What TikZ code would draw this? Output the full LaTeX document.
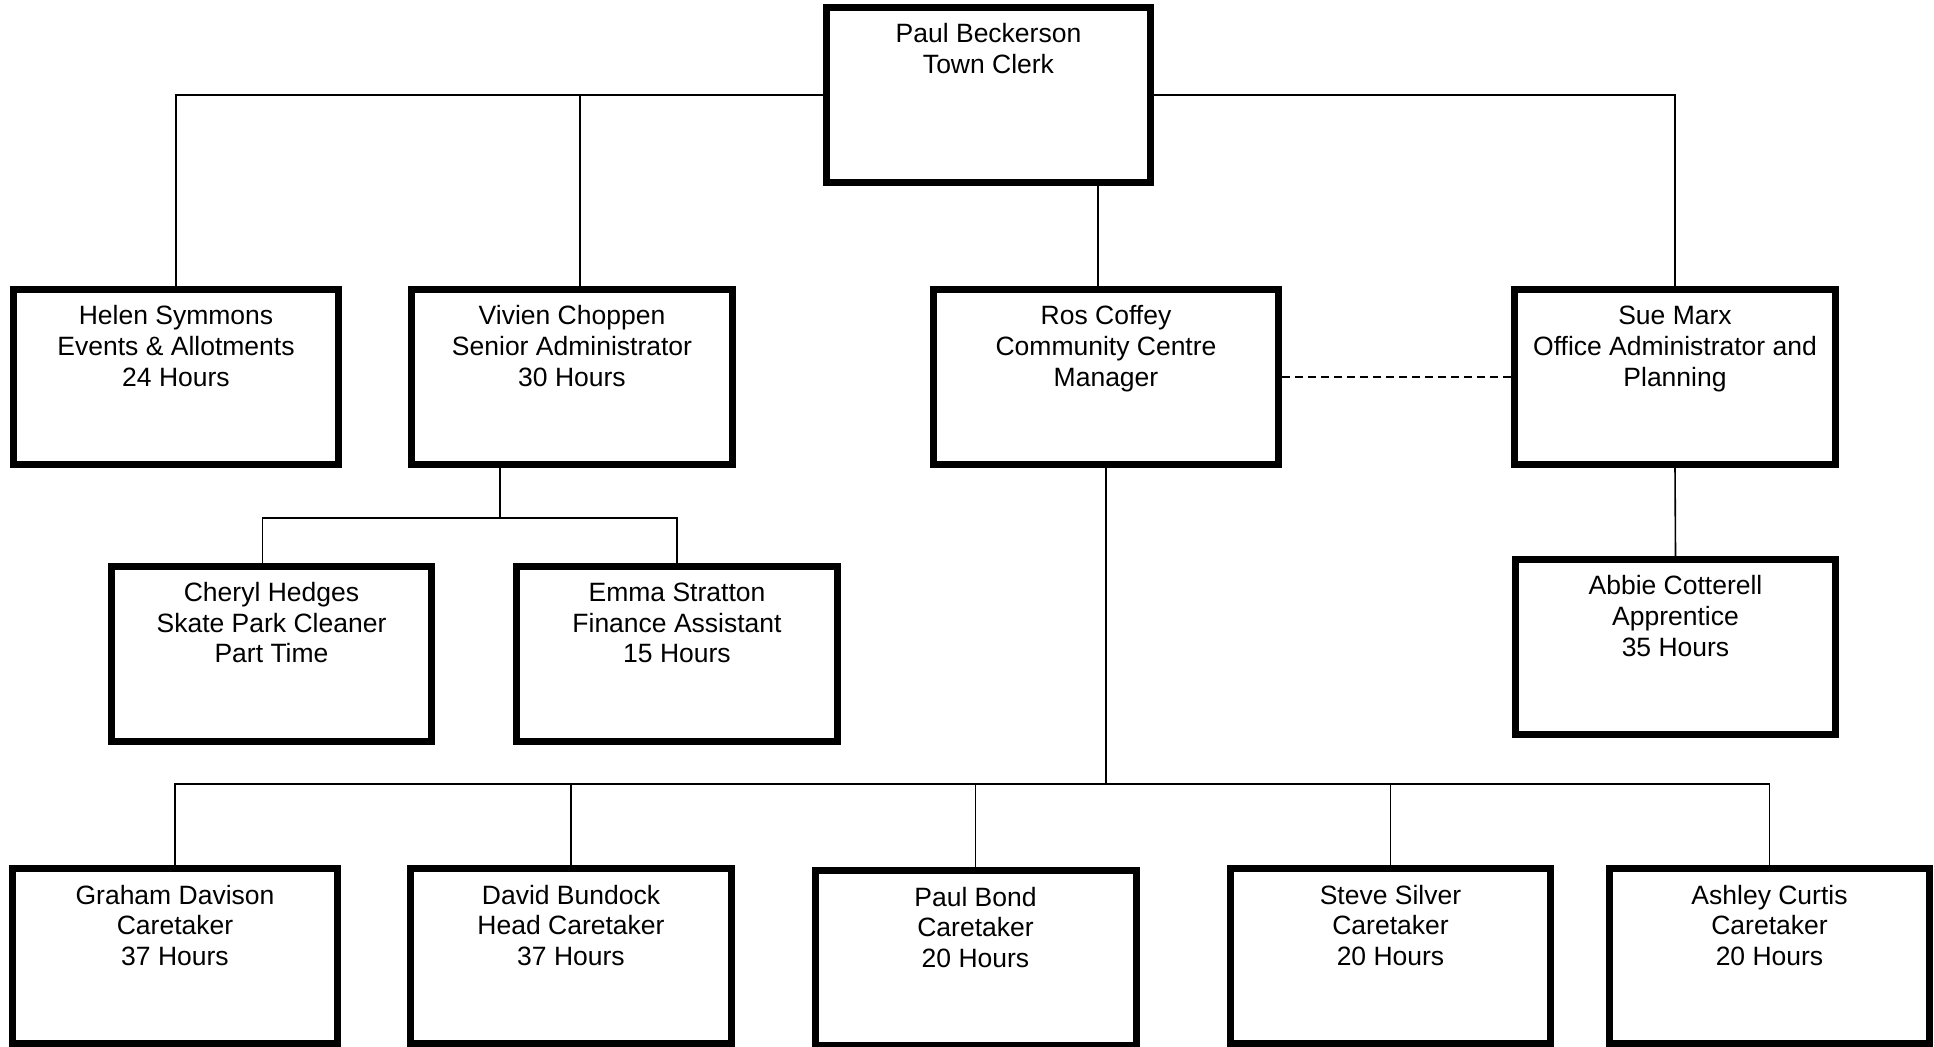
\documentclass[tikz,border=0pt]{standalone}
\usepackage{fontspec}
\setmainfont{Liberation Sans}
\usetikzlibrary{positioning}
\tikzset{
    post/.style={
           rectangle,
           draw=black, line width=7pt,
           minimum width=321pt,
           minimum height=175pt,
           inner sep=0pt,
           },
    link/.style={draw=black, line width=1.6pt},
}
\newcommand{\staff}[1]{\parbox[c][175pt][t]{300pt}{\centering\fontsize{26.5}{30.7}\selectfont\vspace*{14pt}\strut#1}}

\begin{document}
\begin{tikzpicture}[x=1pt, y=-1pt]
  \useasboundingbox (0,0) rectangle (1934,1046);

  \node[post, minimum width=324pt] (Beckerson) at (988.5,95)   {\staff{Paul Beckerson\\Town Clerk}};

  \node[post, minimum width=325pt] (Symmons)   at (176,377)    {\staff{Helen Symmons\\Events \& Allotments\\24 Hours}};
  \node[post]                      (Choppen)   at (572,377)    {\staff{Vivien Choppen\\Senior Administrator\\30 Hours}};
  \node[post, minimum width=345pt] (Coffey)    at (1106,377)   {\staff{Ros Coffey\\Community Centre\\Manager}};
  \node[post]                      (Marx)      at (1675,377)   {\staff{Sue Marx\\Office Administrator and\\Planning}};

  \node[post, minimum width=320pt] (Hedges)    at (271.5,653.5) {\staff{Cheryl Hedges\\Skate Park Cleaner\\Part Time}};
  \node[post]                      (Stratton)  at (677,653.5)  {\staff{Emma Stratton\\Finance Assistant\\15 Hours}};
  \node[post, minimum width=320pt] (Cotterell) at (1675.5,647) {\staff{Abbie Cotterell\\Apprentice\\35 Hours}};

  \node[post, minimum width=325pt] (Davison)   at (175,956)    {\staff{Graham Davison\\Caretaker\\37 Hours}};
  \node[post]                      (Bundock)   at (571,956)    {\staff{David Bundock\\Head Caretaker\\37 Hours}};
  \node[post]                      (Bond)      at (975.5,958)  {\staff{Paul Bond\\Caretaker\\20 Hours}};
  \node[post, minimum width=320pt] (Silver)    at (1390.5,956) {\staff{Steve Silver\\Caretaker\\20 Hours}};
  \node[post, minimum width=320pt] (Curtis)    at (1769.5,956) {\staff{Ashley Curtis\\Caretaker\\20 Hours}};

  \coordinate (ChoppenFork) at (500,518);
  \coordinate (CoffeyFork)  at (1106,784);

% Town Clerk
  \draw[link] (Beckerson.west) -| (Symmons.north);
  \draw[link] ([xshift=8pt]Choppen.north) -- ([xshift=8pt]Choppen.north |- Beckerson.west);
  \draw[link] ([xshift=-8pt]Coffey.north) -- ([xshift=-8pt]Coffey.north |- Beckerson.south);
  \draw[link] (Beckerson.east) -| (Marx.north);

% Senior Administrator
  \draw[link] ([xshift=-72pt]Choppen.south) -- (ChoppenFork);
  \draw[link] ([xshift=-9pt]Hedges.north) |- (ChoppenFork) -| (Stratton.north);

% Office Administrator
  \draw[link, line width=1.3pt, dash pattern=on 8pt off 5pt] (Coffey.east) -- (Marx.west);
  \draw[link] (Marx.south) -- (Cotterell.north);

% Community Centre Manager
  \draw[link] (Coffey.south) -- (CoffeyFork);
  \draw[link] (Davison.north) |- (CoffeyFork) -| (Curtis.north);
  \draw[link] (Bundock.north) -- (Bundock.north |- CoffeyFork);
  \draw[link] (Bond.north) -- ++(0,-83);
  \draw[link] (Silver.north) -- (Silver.north |- CoffeyFork);

\end{tikzpicture}
\end{document}
